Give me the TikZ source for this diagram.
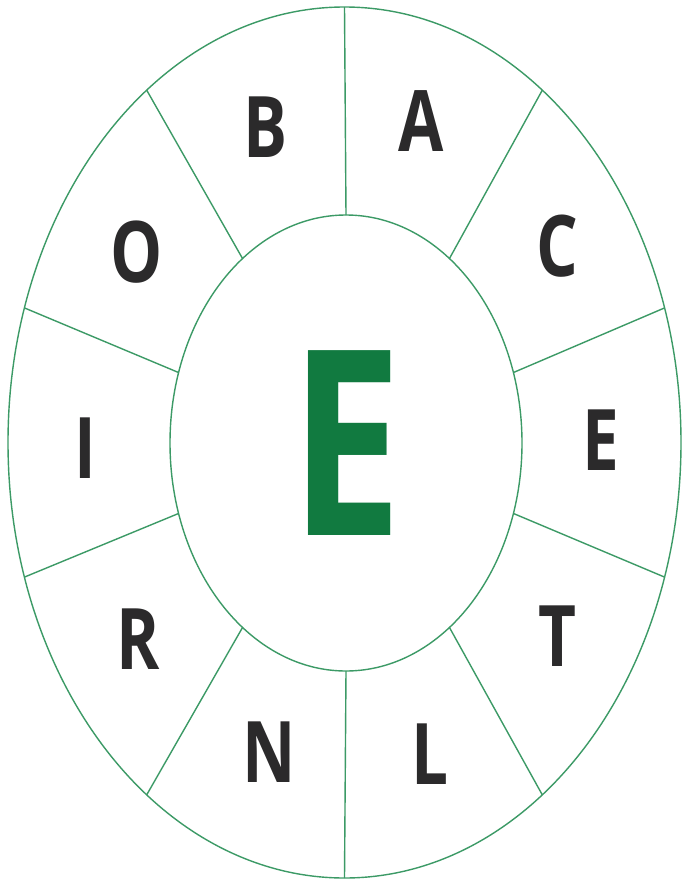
\documentclass[tikz,border=0pt]{standalone}
\usepackage{fontspec}
\setmainfont{Open Sans}
\newfontfamily\opensansbold{Open Sans}[UprightFont=* Bold]
\begin{document}
\begin{tikzpicture}[x=1pt,y=-1pt,
  ringline/.style={draw=ringgreen, line width=1.4pt},
  letter/.style={inner sep=0pt, text=lettergray, xscale=0.772,
    font=\opensansbold\fontsize{85}{85}\selectfont},
  bigletter/.style={inner sep=0pt, text=biggreen, xscale=0.772,
    font=\opensansbold\fontsize{259}{259}\selectfont}]
\definecolor{ringgreen}{HTML}{3C9A66}
\definecolor{biggreen}{HTML}{117A40}
\definecolor{lettergray}{HTML}{2B2A2B}
\useasboundingbox (0,0) rectangle (682,881);
\fill[white] (0,0) rectangle (682,881);
% ellipses
\draw[ringline] (344.5,442.5) ellipse [x radius=336.5, y radius=435.5];
\draw[ringline] (346,443) ellipse [x radius=176, y radius=228];
% dividers
\foreach \k in {0,...,9}{
  \pgfmathsetmacro{\ang}{90+36*\k}
  \coordinate (in\k) at ({346+176*cos(\ang)},{443-228*sin(\ang)});
  \coordinate (out\k) at ({344.5+336.5*cos(\ang)},{442.5-435.5*sin(\ang)});
  \draw[ringline] (in\k) -- (out\k);
}
% letters
\node[letter] (lA) at (421,121) {A};
\node[letter] (lB) at (266,127) {B};
\node[letter] (lC) at (557,246) {C};
\node[letter] (lE) at (601,440) {E};
\node[letter] (lT) at (557,636) {T};
\node[letter] (lL) at (430,754) {L};
\node[letter] (lN) at (269,752) {N};
\node[letter] (lR) at (138,639) {R};
\node[letter] (lI) at (85,448) {I};
\node[letter] (lO) at (137,252) {O};
\node[bigletter] (center) at (346,443) {E};
\end{tikzpicture}
\end{document}
